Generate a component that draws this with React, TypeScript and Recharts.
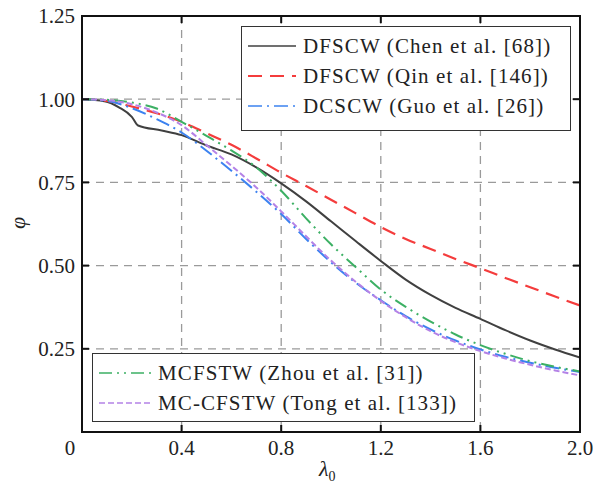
import { LineChart, Line, XAxis, YAxis, CartesianGrid } from 'recharts';

const lambda = [0, 0.1, 0.2, 0.3, 0.4, 0.5, 0.6, 0.7, 0.8, 0.9, 1.0, 1.1, 1.2, 1.3, 1.4, 1.5, 1.6, 1.7, 1.8, 1.9, 2.0];
const chenLambda = [0, 0.09, 0.15, 0.2, 0.225, 0.32, 0.4, 0.5, 0.6, 0.7, 0.8, 0.9, 1.0, 1.1, 1.2, 1.3, 1.4, 1.5, 1.6, 1.7, 1.8, 1.9, 2.0];

const chen = [1.0, 0.994, 0.975, 0.947, 0.921, 0.906, 0.892, 0.861, 0.834, 0.795, 0.747, 0.693, 0.633, 0.573, 0.514, 0.458, 0.412, 0.373, 0.34, 0.306, 0.275, 0.248, 0.224];
const qin = [1.0, 0.995, 0.978, 0.958, 0.932, 0.898, 0.863, 0.822, 0.779, 0.739, 0.698, 0.657, 0.616, 0.58, 0.55, 0.52, 0.492, 0.463, 0.435, 0.407, 0.38];
const guo = [1.0, 0.995, 0.973, 0.94, 0.9, 0.845, 0.785, 0.722, 0.655, 0.58, 0.51, 0.448, 0.396, 0.348, 0.308, 0.275, 0.248, 0.226, 0.208, 0.193, 0.18];
const zhou = [1.0, 0.998, 0.99, 0.972, 0.932, 0.89, 0.846, 0.795, 0.725, 0.642, 0.564, 0.495, 0.428, 0.376, 0.332, 0.293, 0.261, 0.235, 0.213, 0.196, 0.182];
const tong = [1.0, 0.997, 0.985, 0.96, 0.922, 0.862, 0.8, 0.735, 0.663, 0.588, 0.515, 0.451, 0.394, 0.345, 0.303, 0.27, 0.243, 0.221, 0.202, 0.185, 0.17];

const xTicks = [0, 0.4, 0.8, 1.2, 1.6, 2.0];
const xTickLabels = ['0', '0.4', '0.8', '1.2', '1.6', '2.0'];
const yTicks = [0, 0.25, 0.5, 0.75, 1.0, 1.25];
const yTickLabels = ['', '0.25', '0.50', '0.75', '1.00', '1.25'];

const X_MAX = 2;
const Y_MAX = 1.25;

const series = [
  { name: 'DFSCW (Chen et al. [68])', xs: chenLambda, ys: chen, color: '#404040', dash: undefined as string | undefined, width: 2 },
  { name: 'DFSCW (Qin et al. [146])', xs: lambda, ys: qin, color: '#f43c3c', dash: '14 8', width: 2.2 },
  { name: 'DCSCW (Guo et al. [26])', xs: lambda, ys: guo, color: '#3c82f0', dash: '14 5 2 5', width: 2 },
  { name: 'MCFSTW (Zhou et al. [31])', xs: lambda, ys: zhou, color: '#3cb064', dash: '13 5 2 5 2 5', width: 2 },
  { name: 'MC-CFSTW (Tong et al. [133])', xs: lambda, ys: tong, color: '#b482e6', dash: '6 3', width: 2 },
];

const FONT = "'Liberation Serif', 'DejaVu Serif', serif";
const FS = 21;

// plot box (matches chart margins + axis sizes below)
const W = 593, H = 486;
const PL = 82, PT = 16, PR = 580, PB = 432;

function LegendBox({ items, left, top, width, height, sampleW }: any) {
  return (
    <div style={{ position: 'absolute', left, top, width, height, border: '1.5px solid #333', background: '#fff', boxSizing: 'border-box', padding: '4px 6px' }}>
      {items.map((s: any) => (
        <div key={s.name} style={{ display: 'flex', alignItems: 'center', height: 30, fontFamily: FONT, fontSize: FS, color: '#222', whiteSpace: 'nowrap', letterSpacing: 1.1 }}>
          <svg width={sampleW} height={10} style={{ marginRight: 7 }}>
            <line x1={0} y1={5} x2={sampleW} y2={5} stroke={s.color} strokeWidth={s.width * 0.8} strokeDasharray={s.dash} />
          </svg>
          {s.name}
        </div>
      ))}
    </div>
  );
}

// top/right frame with inward ticks
function Frame() {
  const sx = (v: number) => PL + (v / X_MAX) * (PR - PL);
  const sy = (v: number) => PB - (v / Y_MAX) * (PB - PT);
  return (
    <svg width={W} height={H} style={{ position: 'absolute', left: 0, top: 0, pointerEvents: 'none' }}>
      <rect x={PL} y={PT} width={PR - PL} height={PB - PT} fill="none" stroke="#111" strokeWidth={2} />
      {xTicks.slice(1, -1).map((t) => (
        <line key={'x' + t} x1={sx(t)} x2={sx(t)} y1={PT} y2={PT + 7} stroke="#111" strokeWidth={2} />
      ))}
      {yTicks.slice(1, -1).map((t) => (
        <line key={'y' + t} x1={PR} x2={PR - 7} y1={sy(t)} y2={sy(t)} stroke="#111" strokeWidth={2} />
      ))}
    </svg>
  );
}

export default function App() {
  const renderXTick = (props: any) => {
    const { x, y, payload } = props;
    const i = xTicks.indexOf(payload.value);
    const dx = payload.value === 0 ? -12 : 0;
    return (
      <text x={x + dx} y={y} dy="0.71em" textAnchor="middle" style={{ fontFamily: FONT }} fontSize={FS} fill="#222">
        {xTickLabels[i]}
      </text>
    );
  };
  const renderYTick = (props: any) => {
    const { x, y, payload } = props;
    const i = yTicks.indexOf(payload.value);
    return (
      <text x={x} y={y} dy="0.355em" textAnchor="end" style={{ fontFamily: FONT }} fontSize={FS} fill="#222">
        {yTickLabels[i]}
      </text>
    );
  };

  const axisLine = { stroke: '#111', strokeWidth: 2 };

  return (
    <div style={{ position: 'absolute', left: 0, top: 0, width: W, height: H, background: '#fff' }}>
      <LineChart width={W} height={H} margin={{ top: PT, right: W - PR, bottom: 0, left: 0 }}>
        <CartesianGrid stroke="#9a9a9a" strokeDasharray="8 6" strokeWidth={1.3} verticalValues={xTicks} horizontalValues={yTicks} />
        <XAxis dataKey="x" type="number" domain={[0, X_MAX]} ticks={xTicks} height={H - PB}
          axisLine={axisLine} tickLine={axisLine} tickSize={-7} tickMargin={15} tick={renderXTick} allowDataOverflow />
        <YAxis type="number" domain={[0, Y_MAX]} ticks={yTicks} width={PL}
          axisLine={axisLine} tickLine={axisLine} tickSize={-7} tickMargin={14} tick={renderYTick} allowDataOverflow />
        {series.map((s) => (
          <Line key={s.name} data={s.xs.map((x, i) => ({ x, y: s.ys[i] }))}
            dataKey="y" type="monotone" stroke={s.color} strokeWidth={s.width} strokeDasharray={s.dash}
            dot={false} activeDot={false} isAnimationActive={false} />
        ))}
      </LineChart>
      <Frame />
      <LegendBox items={series.slice(0, 3)} left={241} top={26} width={330} height={105} sampleW={48} />
      <LegendBox items={series.slice(3)} left={92} top={353} width={383} height={69} sampleW={52} />
      <div style={{ position: 'absolute', left: 12, top: 210, fontFamily: FONT, fontSize: 22, fontStyle: 'italic', transform: 'rotate(-90deg)', color: '#222' }}>φ</div>
      <div style={{ position: 'absolute', left: 319, top: 456, fontFamily: FONT, fontSize: 22, fontStyle: 'italic', color: '#222' }}>
        λ<sub style={{ fontStyle: 'normal', fontSize: 14 }}>0</sub>
      </div>
    </div>
  );
}
